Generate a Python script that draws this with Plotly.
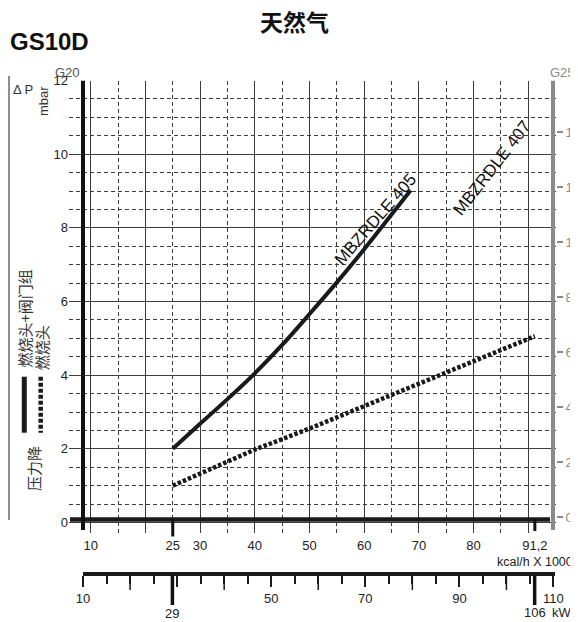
import plotly.graph_objects as go

# page body has an 8px margin: design in page pixels, convert to figure paper
PAGE_W, PAGE_H = 578, 622
OFF = 8
W, H = PAGE_W - OFF, PAGE_H - OFF
FONT = "Liberation Sans, Arial, Helvetica, sans-serif"
CJK = "Noto Sans CJK SC, sans-serif"

# ---------------- data ----------------
kcal_405 = [25, 30, 35, 40, 45, 50, 55, 60, 65, 68.5]
dp_405 = [2.0, 2.68, 3.35, 4.05, 4.82, 5.66, 6.52, 7.42, 8.36, 9.02]
kcal_407 = [25, 30, 40, 50, 60, 70, 80, 91.2]
dp_407 = [1.0, 1.32, 1.98, 2.55, 3.16, 3.76, 4.4, 5.06]

kcal_ticks = [10, 25, 30, 40, 50, 60, 70, 80, 91.2]
kcal_ticktext = ["10", "25", "30", "40", "50", "60", "70", "80", "91,2"]
kcal_grid_major = [10, 20, 30, 40, 50, 60, 70, 80, 90]
kcal_grid_minor = [15, 25, 35, 45, 55, 65, 75, 85]
kcal_marks = [25, 91.2]

g20_ticks = [0, 2, 4, 6, 8, 10, 12]
g25_ticks = [0, 2, 4, 6, 8, 10, 12, 14]

kw_ticks = [10, 30, 50, 70, 90, 110]
kw_ticktext = ["10", "", "50", "70", "90", "110"]
kw_long = [20, 40, 60, 80, 100]
kw_marks = [29, 106]
KCAL_PER_KW = 0.86

label_405 = "MBZRDLE 405"
label_407 = "MBZRDLE 407"

# ---------------- pixel helpers (layout only) ----------------
def pxx(p):
    return (p - OFF) / W

def pxy(p):
    return 1 - (p - OFF) / H

def kcal_at(p):
    return 10 + (p - 90.7) / 5.47

def g20_at(p):
    return (522.5 - p) / 36.83

def g25_at(p):
    return (517 - p) / 27.5

def kw_at(p):
    return kcal_at(p) / KCAL_PER_KW

INK = "#1a1a1a"
GRID = "#3c3c3c"
GRAY = "#8a8a8a"

fig = go.Figure()

fig.add_trace(go.Scatter(
    x=kcal_405, y=dp_405, mode="lines",
    line=dict(color=INK, width=4, shape="spline", smoothing=1.0),
    hoverinfo="skip", showlegend=False))
fig.add_trace(go.Scatter(
    x=kcal_407, y=dp_407, mode="lines",
    line=dict(color=INK, width=4.5, dash="3.5px,2px"),
    hoverinfo="skip", showlegend=False))

# helper traces so the extra axes are drawn
fig.add_trace(go.Scatter(x=[kcal_grid_major[0]], y=[0], xaxis="x2", yaxis="y",
                         mode="markers", marker=dict(opacity=0), hoverinfo="skip", showlegend=False))
fig.add_trace(go.Scatter(x=[kcal_grid_major[0]], y=[0], xaxis="x", yaxis="y2",
                         mode="markers", marker=dict(opacity=0), hoverinfo="skip", showlegend=False))
fig.add_trace(go.Scatter(x=[kw_ticks[0]], y=[0.5], xaxis="x3", yaxis="y4",
                         mode="markers", marker=dict(opacity=0), hoverinfo="skip", showlegend=False))

xr = [kcal_at(69), kcal_at(556)]
yr = [g20_at(533), g20_at(80.5)]
y2r = [g25_at(533), g25_at(80.5)]
kwr = [kw_at(82.7), kw_at(555)]

fig.update_layout(
    template="none",
    width=W, height=H,
    margin=dict(l=0, r=0, t=0, b=0, autoexpand=False),
    paper_bgcolor="white", plot_bgcolor="rgba(0,0,0,0)",
    showlegend=False,
    font=dict(family=FONT, size=13, color="#222"),
    xaxis=dict(domain=[pxx(69), pxx(556)], range=xr, anchor="y", automargin=False,
               tickmode="array", tickvals=kcal_ticks, ticktext=kcal_ticktext,
               showgrid=False, zeroline=False, showline=False, ticks="",
               ticklabelstandoff=3,
               tickfont=dict(size=13, color="#222")),
    xaxis2=dict(overlaying="x", range=xr, anchor="y", side="bottom", automargin=False,
                tickmode="array", tickvals=kcal_grid_major,
                showgrid=True, gridcolor=GRID, gridwidth=1,
                minor=dict(tickmode="array", tickvals=kcal_grid_minor, showgrid=True,
                           gridcolor=GRID, gridwidth=1, griddash="4px,3px"),
                showticklabels=False, ticks="", zeroline=False, showline=False),
    yaxis=dict(domain=[pxy(533), pxy(80.5)], range=yr, anchor="x", automargin=False,
               tickmode="array", tickvals=g20_ticks,
               showgrid=True, gridcolor=GRID, gridwidth=1,
               minor=dict(dtick=0.5, tick0=0, showgrid=True, gridcolor=GRID,
                          gridwidth=1, griddash="4px,3px"),
               ticks="", zeroline=False, showline=False,
               tickfont=dict(size=13, color="#222")),
    yaxis2=dict(overlaying="y", side="right", anchor="x", range=y2r, automargin=False,
                tickmode="array", tickvals=g25_ticks,
                ticks="outside", ticklen=6, tickwidth=2, tickcolor=GRAY,
                tickfont=dict(size=13, color=GRAY),
                showgrid=False, zeroline=False, showline=False),
    xaxis3=dict(domain=[pxx(82.7), pxx(555)], range=kwr, anchor="y4", automargin=False,
                tickmode="array", tickvals=kw_ticks, ticktext=kw_ticktext,
                ticks="outside", ticklen=11, tickwidth=1.5, tickcolor=INK,
                minor=dict(dtick=5, tick0=0, ticks="outside", ticklen=8,
                           tickwidth=1.5, tickcolor=INK),
                showline=True, linewidth=4, linecolor=INK,
                showgrid=False, zeroline=False,
                tickfont=dict(size=13, color="#222")),
    yaxis4=dict(domain=[pxy(572.3), pxy(560)], range=[0, 1], anchor="x3", automargin=False,
                visible=False, showgrid=False, zeroline=False),
)

shapes = []
# thick kcal axis line
shapes.append(dict(type="line", xref="x", yref="y", x0=kcal_at(70), x1=kcal_at(550),
                   y0=g20_at(519.5), y1=g20_at(519.5), line=dict(color=INK, width=4.5)))
# left thick G20 axis
shapes.append(dict(type="line", xref="x", yref="y", x0=kcal_at(83), x1=kcal_at(83),
                   y0=g20_at(530), y1=g20_ticks[-1], line=dict(color="#111", width=4)))
# right gray G25 axis
shapes.append(dict(type="line", xref="x", yref="y", x0=kcal_at(553), x1=kcal_at(553),
                   y0=g20_at(530), y1=g20_ticks[-1], line=dict(color=GRAY, width=4)))
# thick marks on kcal axis
for v, bottom in zip(kcal_marks, [536.5, 531]):
    shapes.append(dict(type="line", xref="x", yref="paper", x0=v, x1=v,
                       y0=pxy(519), y1=pxy(bottom), line=dict(color="#111", width=3)))
# long ticks on kW axis
for v in kw_long:
    shapes.append(dict(type="line", xref="x3", yref="paper", x0=v, x1=v,
                       y0=pxy(575), y1=pxy(590), line=dict(color=INK, width=1.5)))
for v in kw_marks:
    shapes.append(dict(type="line", xref="x3", yref="paper", x0=v, x1=v,
                       y0=pxy(575), y1=pxy(605), line=dict(color="#111", width=3.5)))
# left bracket line
shapes.append(dict(type="line", xref="paper", yref="paper", x0=pxx(9), x1=pxx(9),
                   y0=pxy(76), y1=pxy(520), line=dict(color="#444", width=1.2)))
# legend samples
shapes.append(dict(type="line", xref="paper", yref="paper", x0=pxx(24.3), x1=pxx(24.3),
                   y0=pxy(376.7), y1=pxy(432.7), line=dict(color=INK, width=5)))
shapes.append(dict(type="line", xref="paper", yref="paper", x0=pxx(40.7), x1=pxx(40.7),
                   y0=pxy(376.7), y1=pxy(432.7), line=dict(color=INK, width=4.5, dash="4px,2px")))
fig.update_layout(shapes=shapes)

ann = []
def A(text, x, y, size=13, color="#222", family=FONT, angle=0, xanchor="center",
      yanchor="middle", xref="paper", yref="paper", bold=False):
    ann.append(dict(text=("<b>%s</b>" % text) if bold else text, x=x, y=y, xref=xref, yref=yref,
                    showarrow=False, textangle=angle, xanchor=xanchor, yanchor=yanchor,
                    font=dict(size=size, color=color, family=family)))

A("天然气", pxx(294), pxy(21), size=23, color="#111", family=CJK, bold=True)
A("GS10D", pxx(8), pxy(41), size=24, color="#111", xanchor="left", bold=True)
A("G20", pxx(67), pxy(72), size=13, color="#555")
A("G25", pxx(562), pxy(72), size=13, color=GRAY)
A("Δ P", pxx(23), pxy(89), size=13, color="#333")
A("mbar", pxx(43), pxy(101), size=13, color="#333", angle=-90)
A("燃烧头+阀门组", pxx(24), pxy(318.5), size=15, color="#333", family=CJK, angle=-90)
A("燃烧头", pxx(41.7), pxy(347.5), size=15, color="#333", family=CJK, angle=-90)
A("压力降", pxx(33), pxy(469), size=15, color="#333", family=CJK, angle=-90)
A(label_405, kcal_at(375.8), g20_at(220), size=17, color="#111", angle=-49, xref="x", yref="y")
A(label_407, kcal_at(491.7), g20_at(168.3), size=17, color="#111", angle=-52, xref="x", yref="y")
A("kcal/h X 1000", pxx(575), pxy(562), size=12.5, xanchor="right")
A(str(kw_marks[0]), kw_marks[0], pxy(613), size=13, xref="x3")
A(str(kw_marks[1]), kw_marks[1], pxy(612), size=13, xref="x3")
A("kW", pxx(550), pxy(612), size=13, xanchor="left")
fig.update_layout(annotations=ann)

fig.write_html("out.html")
